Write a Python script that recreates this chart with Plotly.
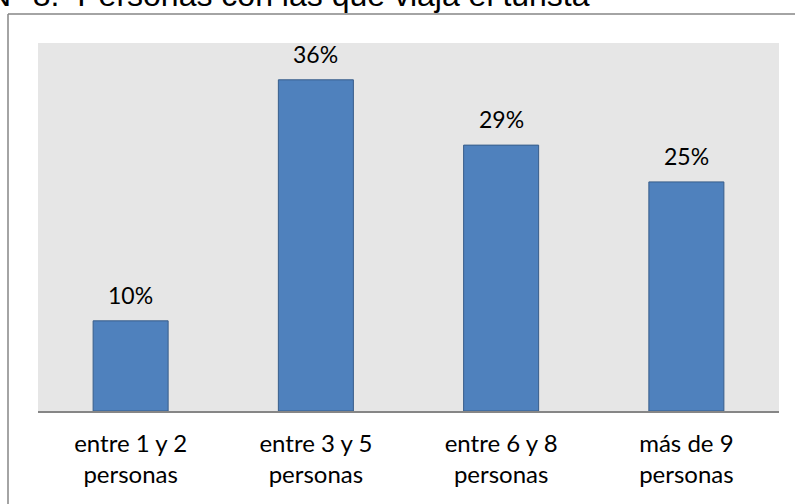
import plotly.graph_objects as go

categories = ["entre 1 y 2<br>personas", "entre 3 y 5<br>personas",
              "entre 6 y 8<br>personas", "más de 9<br>personas"]
values = [9.8, 36.0, 28.9, 24.9]
labels = ["10%", "36%", "29%", "25%"]
title_text = "N°\u00a08.\u00a0\u00a0Personas con las que viaja el turista"

W, H = 795, 504
L, R, T, B = 38, 16, 43, 93
plot_h = H - T - B

fig = go.Figure()
fig.add_trace(go.Bar(
    x=categories, y=values,
    marker=dict(color="#4f81bd", line=dict(color="#385d8a", width=1)),
    hoverinfo="skip",
))

for c, v, t in zip(categories, values, labels):
    fig.add_annotation(x=c, y=v, xref="x", yref="y", text=t, showarrow=False,
                       yanchor="bottom", yshift=10,
                       font=dict(family="Lato", size=23, color="#000000"))

# Title (partially cut at the top of the image, as in the original)
fig.add_annotation(xref="paper", yref="paper",
                   x=(592 - L) / (W - L - R), y=(H - B - 7) / plot_h,
                   xanchor="right", yanchor="bottom", yshift=-8,
                   text=title_text, showarrow=False,
                   font=dict(family="Liberation Sans", size=32, color="#000000"))

# chart frame lines
pw = W - L - R
fig.add_shape(type="line", xref="paper", yref="paper",
              x0=(8 - L) / pw, x1=(8 - L) / pw,
              y0=(H - B - 14) / plot_h, y1=(H - B - H - 5) / plot_h,
              line=dict(color="#868686", width=1.5))
fig.add_shape(type="line", xref="paper", yref="paper",
              x0=(8 - L) / pw, x1=(W + 5 - L) / pw,
              y0=(H - B - 14) / plot_h, y1=(H - B - 14) / plot_h,
              line=dict(color="#868686", width=1.5))

fig.update_layout(
    width=W, height=H,
    margin=dict(l=L, r=R, t=T, b=B, pad=0),
    paper_bgcolor="#ffffff",
    plot_bgcolor="#e6e6e6",
    bargap=0.595,
    showlegend=False,
    xaxis=dict(showline=True, linecolor="#868686", linewidth=1.5,
               ticks="", showgrid=False, zeroline=False, ticklabelstandoff=10,
               tickfont=dict(family="Lato", size=24, color="#000000")),
    yaxis=dict(range=[0, 40], visible=False, showgrid=False, zeroline=False),
)

fig.write_html("out.html")
